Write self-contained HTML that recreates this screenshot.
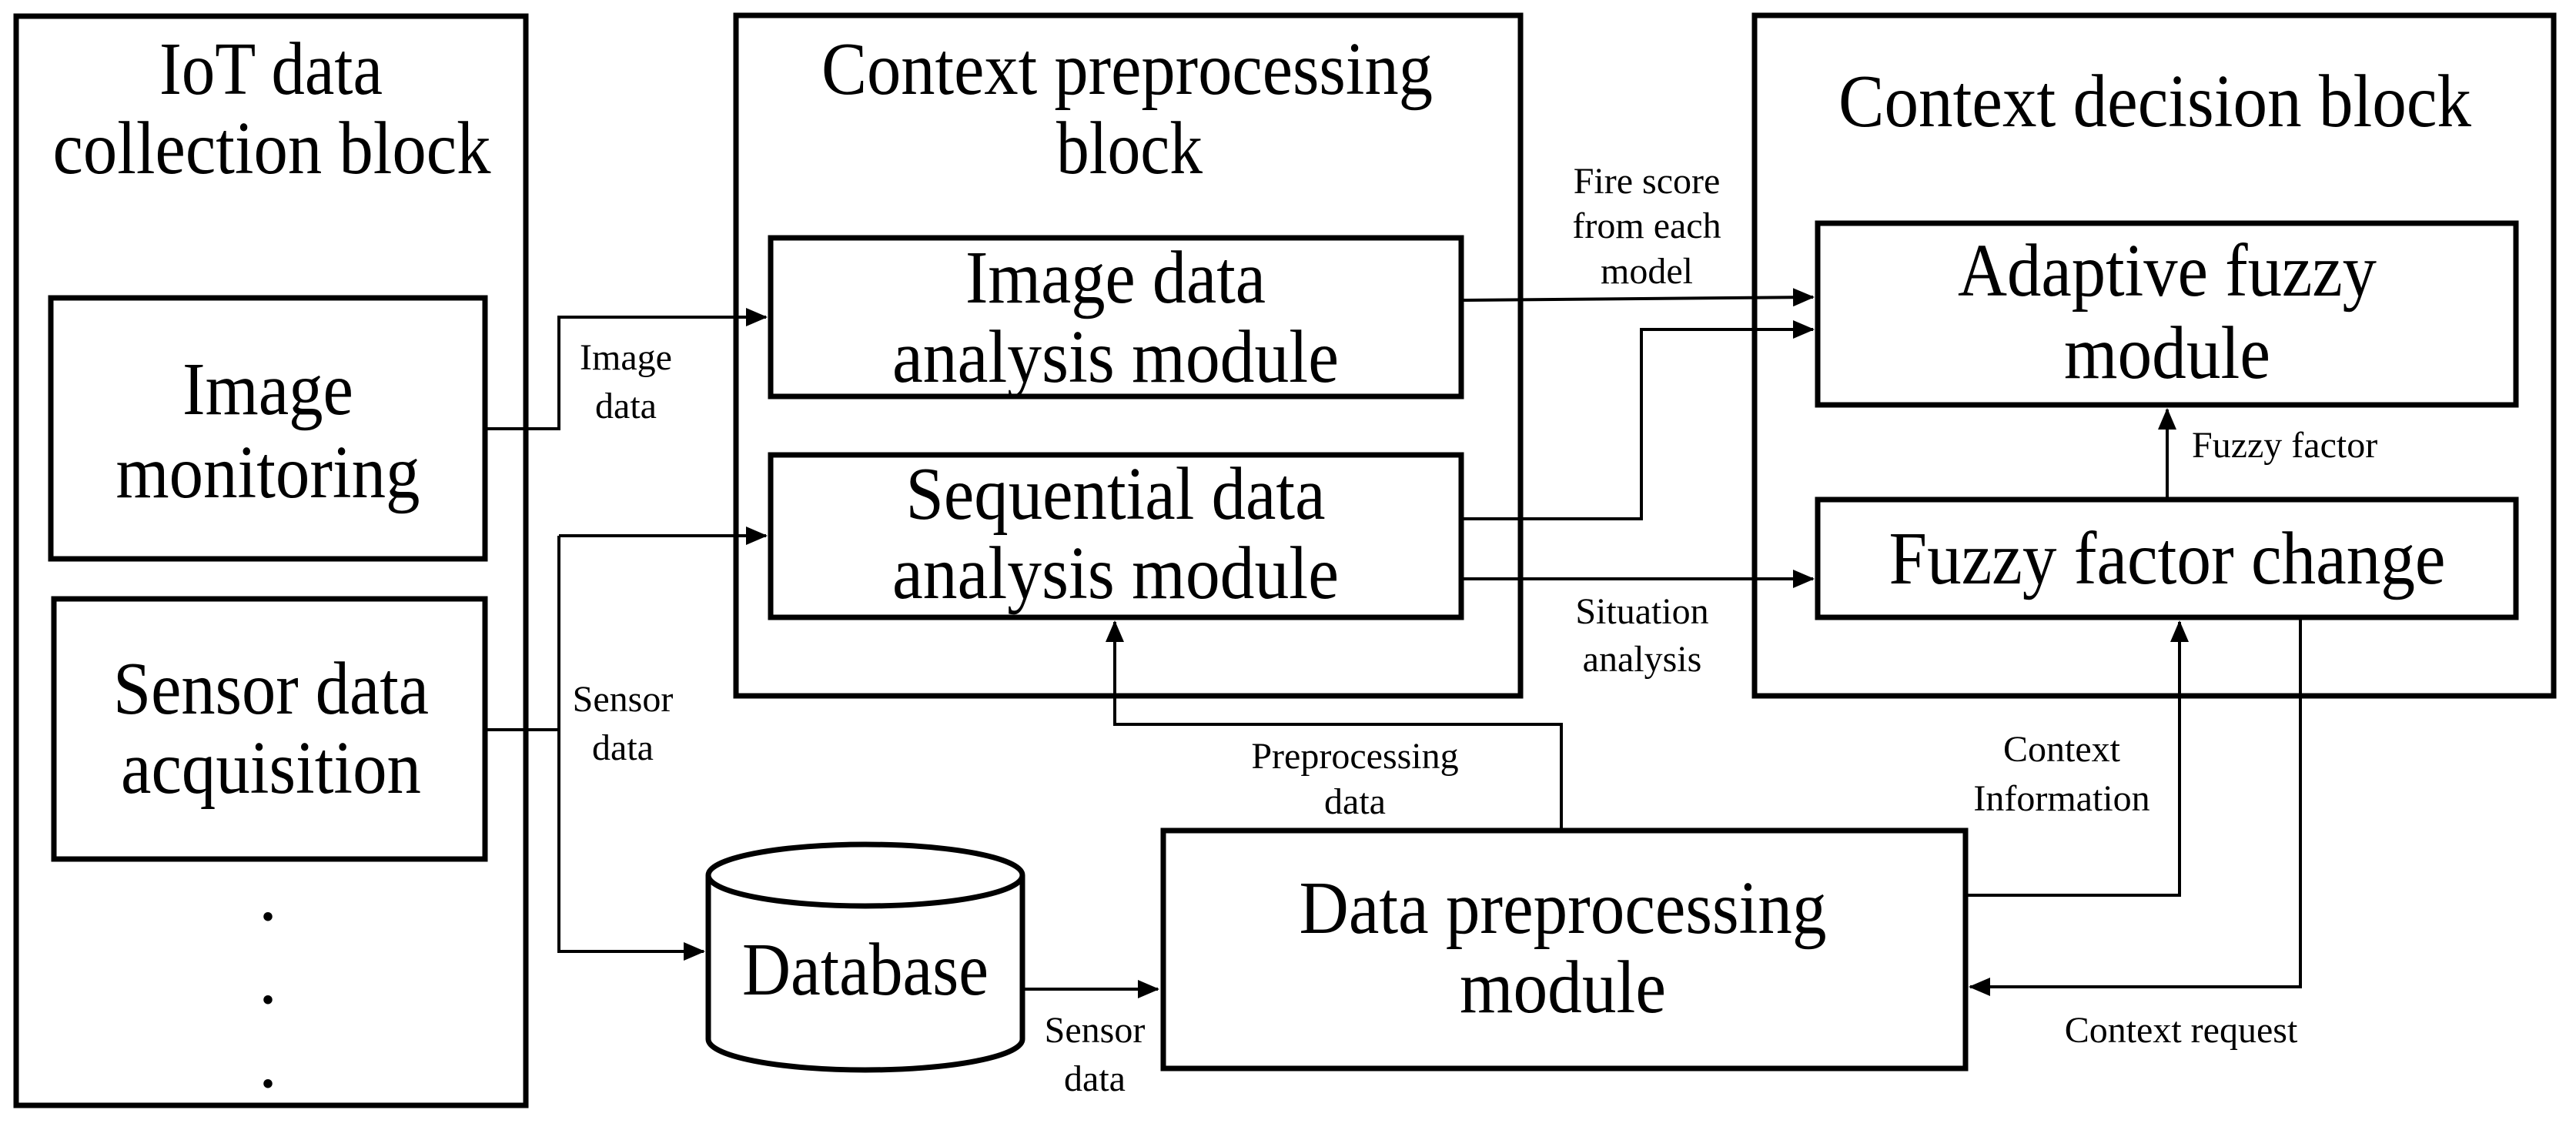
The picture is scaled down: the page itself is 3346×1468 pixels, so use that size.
<!DOCTYPE html>
<html><head><meta charset="utf-8"><style>
html,body{margin:0;padding:0;background:#fff;}
svg{display:block;}
text{font-family:"Liberation Serif",serif;fill:#000;}
.b{font-size:97px;text-anchor:middle;}
.s{font-size:48px;text-anchor:middle;}
</style></head><body>
<svg width="3346" height="1468" viewBox="0 0 3346 1468" xmlns="http://www.w3.org/2000/svg">
<defs>
<marker id="a" markerWidth="7" markerHeight="6" refX="6.5" refY="3" orient="auto" markerUnits="strokeWidth">
<path d="M0,0 L7,3 L0,6 z" fill="#000"/></marker>
</defs>
<g fill="none" stroke="#000" stroke-width="7">
<rect x="21" y="21" width="662" height="1415"/>
<rect x="66" y="387" width="564" height="339"/>
<rect x="70" y="778" width="560" height="338"/>
<rect x="956" y="20" width="1019" height="884"/>
<rect x="1001" y="309" width="897" height="206"/>
<rect x="1001" y="591" width="897" height="211"/>
<rect x="2279" y="20" width="1038" height="884"/>
<rect x="2361" y="290" width="907" height="236"/>
<rect x="2361" y="649" width="907" height="153"/>
<rect x="1511" y="1079" width="1042" height="309"/>
<path d="M920,1137 L920,1350 A204,40 0 0 0 1328,1350 L1328,1137"/>
<ellipse cx="1124" cy="1137" rx="204" ry="40"/>
</g>
<g fill="none" stroke="#000" stroke-width="4">
<path d="M632,557 L726,557 L726,412 L995,412" marker-end="url(#a)"/>
<path d="M632,948 L726,948"/>
<path d="M726,696 L995,696" marker-end="url(#a)"/>
<path d="M726,696 L726,1236 L914,1236" marker-end="url(#a)"/>
<path d="M1328,1285 L1504,1285" marker-end="url(#a)"/>
<path d="M2028,1079 L2028,941 L1448,941 L1448,808" marker-end="url(#a)"/>
<path d="M1899,390 L2355,386" marker-end="url(#a)"/>
<path d="M1899,674 L2132,674 L2132,428 L2355,428" marker-end="url(#a)"/>
<path d="M1899,752 L2355,752" marker-end="url(#a)"/>
<path d="M2815,649 L2815,532" marker-end="url(#a)"/>
<path d="M2553,1163 L2831,1163 L2831,808" marker-end="url(#a)"/>
<path d="M2988,802 L2988,1282 L2559,1282" marker-end="url(#a)"/>
</g>
<text class="b" x="352" y="122" textLength="290" lengthAdjust="spacingAndGlyphs">IoT data</text>
<text class="b" x="353" y="225" textLength="569" lengthAdjust="spacingAndGlyphs">collection block</text>
<text class="b" x="1464" y="122" textLength="794" lengthAdjust="spacingAndGlyphs">Context preprocessing</text>
<text class="b" x="1467" y="225" textLength="190" lengthAdjust="spacingAndGlyphs">block</text>
<text class="b" x="2799" y="164" textLength="822" lengthAdjust="spacingAndGlyphs">Context decision block</text>
<text class="b" x="348" y="538" textLength="222" lengthAdjust="spacingAndGlyphs">Image</text>
<text class="b" x="348" y="646" textLength="395" lengthAdjust="spacingAndGlyphs">monitoring</text>
<text class="b" x="352" y="927" textLength="410" lengthAdjust="spacingAndGlyphs">Sensor data</text>
<text class="b" x="352" y="1030" textLength="390" lengthAdjust="spacingAndGlyphs">acquisition</text>
<text class="b" x="1449" y="393" textLength="390" lengthAdjust="spacingAndGlyphs">Image data</text>
<text class="b" x="1449" y="496" textLength="580" lengthAdjust="spacingAndGlyphs">analysis module</text>
<text class="b" x="1449" y="674" textLength="545" lengthAdjust="spacingAndGlyphs">Sequential data</text>
<text class="b" x="1449" y="777" textLength="580" lengthAdjust="spacingAndGlyphs">analysis module</text>
<text class="b" x="2815" y="384" textLength="544" lengthAdjust="spacingAndGlyphs">Adaptive fuzzy</text>
<text class="b" x="2815" y="491" textLength="268" lengthAdjust="spacingAndGlyphs">module</text>
<text class="b" x="2815" y="758" textLength="723" lengthAdjust="spacingAndGlyphs">Fuzzy factor change</text>
<text class="b" x="2030" y="1212" textLength="685" lengthAdjust="spacingAndGlyphs">Data preprocessing</text>
<text class="b" x="2030" y="1315" textLength="268" lengthAdjust="spacingAndGlyphs">module</text>
<text class="b" x="1124" y="1292" textLength="320" lengthAdjust="spacingAndGlyphs">Database</text>
<text class="b" x="348" y="1195">.</text>
<text class="b" x="348" y="1303">.</text>
<text class="b" x="348" y="1412">.</text>
<text class="s" x="813" y="480">Image</text>
<text class="s" x="813" y="543">data</text>
<text class="s" x="809" y="924">Sensor</text>
<text class="s" x="809" y="987">data</text>
<text class="s" x="1422" y="1354">Sensor</text>
<text class="s" x="1422" y="1417">data</text>
<text class="s" x="1760" y="998">Preprocessing</text>
<text class="s" x="1760" y="1057">data</text>
<text class="s" x="2139" y="251">Fire score</text>
<text class="s" x="2139" y="309">from each</text>
<text class="s" x="2139" y="368">model</text>
<text class="s" x="2133" y="810">Situation</text>
<text class="s" x="2133" y="872">analysis</text>
<text class="s" x="2847" y="594" style="text-anchor:start">Fuzzy factor</text>
<text class="s" x="2678" y="989">Context</text>
<text class="s" x="2678" y="1053">Information</text>
<text class="s" x="2833" y="1354">Context request</text>
</svg>
</body></html>
